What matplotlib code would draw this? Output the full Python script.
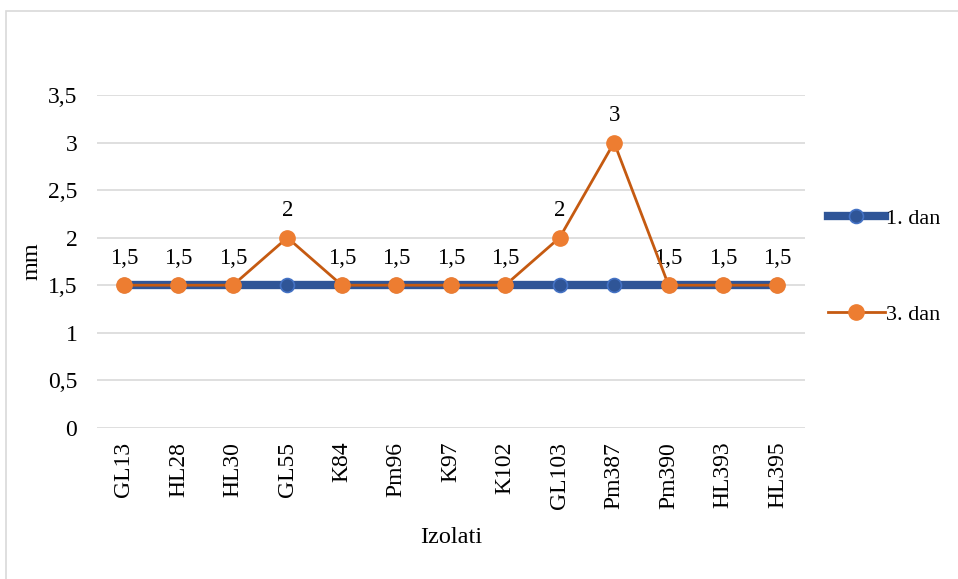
import matplotlib.pyplot as plt
from matplotlib.patches import Rectangle
from matplotlib.ticker import FuncFormatter

izolati = ["GL13", "HL28", "HL30", "GL55", "K84", "Pm96", "K97", "K102",
           "GL103", "Pm387", "Pm390", "HL393", "HL395"]
dan_1 = [1.5, 1.5, 1.5, 1.5, 1.5, 1.5, 1.5, 1.5, 1.5, 1.5, 1.5, 1.5, 1.5]
dan_3 = [1.5, 1.5, 1.5, 2, 1.5, 1.5, 1.5, 1.5, 2, 3, 1.5, 1.5, 1.5]
y_ticks = [0, 0.5, 1, 1.5, 2, 2.5, 3, 3.5]

plt.rcParams['font.family'] = ['Liberation Serif', 'DejaVu Serif']

fig = plt.figure(figsize=(9.58, 5.79), dpi=100)
ax = fig.add_axes([0.101, 0.261, 0.739, 0.575])

# chart frame
fig.patches.append(Rectangle((6 / 958, -0.05), 1.2, 1 - 11 / 579 + 0.05,
                             transform=fig.transFigure, fill=False,
                             edgecolor="#D9D9D9", linewidth=1.2))

x = list(range(len(izolati)))
ax.plot(x, dan_1, color="#2F5597", linewidth=6, marker="o", markersize=10,
        markerfacecolor="#2F5597", markeredgecolor="#4472C4",
        markeredgewidth=1.2, label="1. dan", zorder=3)
ax.plot(x, dan_3, color="#C55A11", linewidth=2, marker="o", markersize=11,
        markerfacecolor="#ED7D31", markeredgecolor="#ED7D31",
        label="3. dan", zorder=4)

for xi, v in zip(x, dan_3):
    ax.annotate(f"{v:g}".replace(".", ","), (xi, v), xytext=(0, 12),
                textcoords="offset points", ha="center", va="bottom",
                fontsize=16.5)

ax.set_xlim(-0.5, len(izolati) - 0.5)
ax.set_ylim(0, 3.5)
ax.set_yticks(y_ticks)
ax.yaxis.set_major_formatter(FuncFormatter(lambda v, p: f"{v:g}".replace(".", ",")))
ax.set_xticks(x)
ax.set_xticklabels(izolati, rotation=90)
ax.tick_params(axis="both", length=0, labelsize=17)
ax.tick_params(axis="x", pad=10)
ax.tick_params(axis="y", pad=14)
ax.grid(axis="y", color="#D9D9D9", linewidth=1.2)
ax.set_axisbelow(True)
for s in ax.spines.values():
    s.set_visible(False)

ax.set_xlabel("Izolati", fontsize=17.5, labelpad=13)
ax.set_ylabel("mm", fontsize=17.5, labelpad=4)

fig.legend(loc="center left", bbox_to_anchor=(0.843, 0.54), frameon=False,
           fontsize=16, labelspacing=3.4, handlelength=2.6, handletextpad=0.05)

fig.savefig("out.png", dpi=100)
